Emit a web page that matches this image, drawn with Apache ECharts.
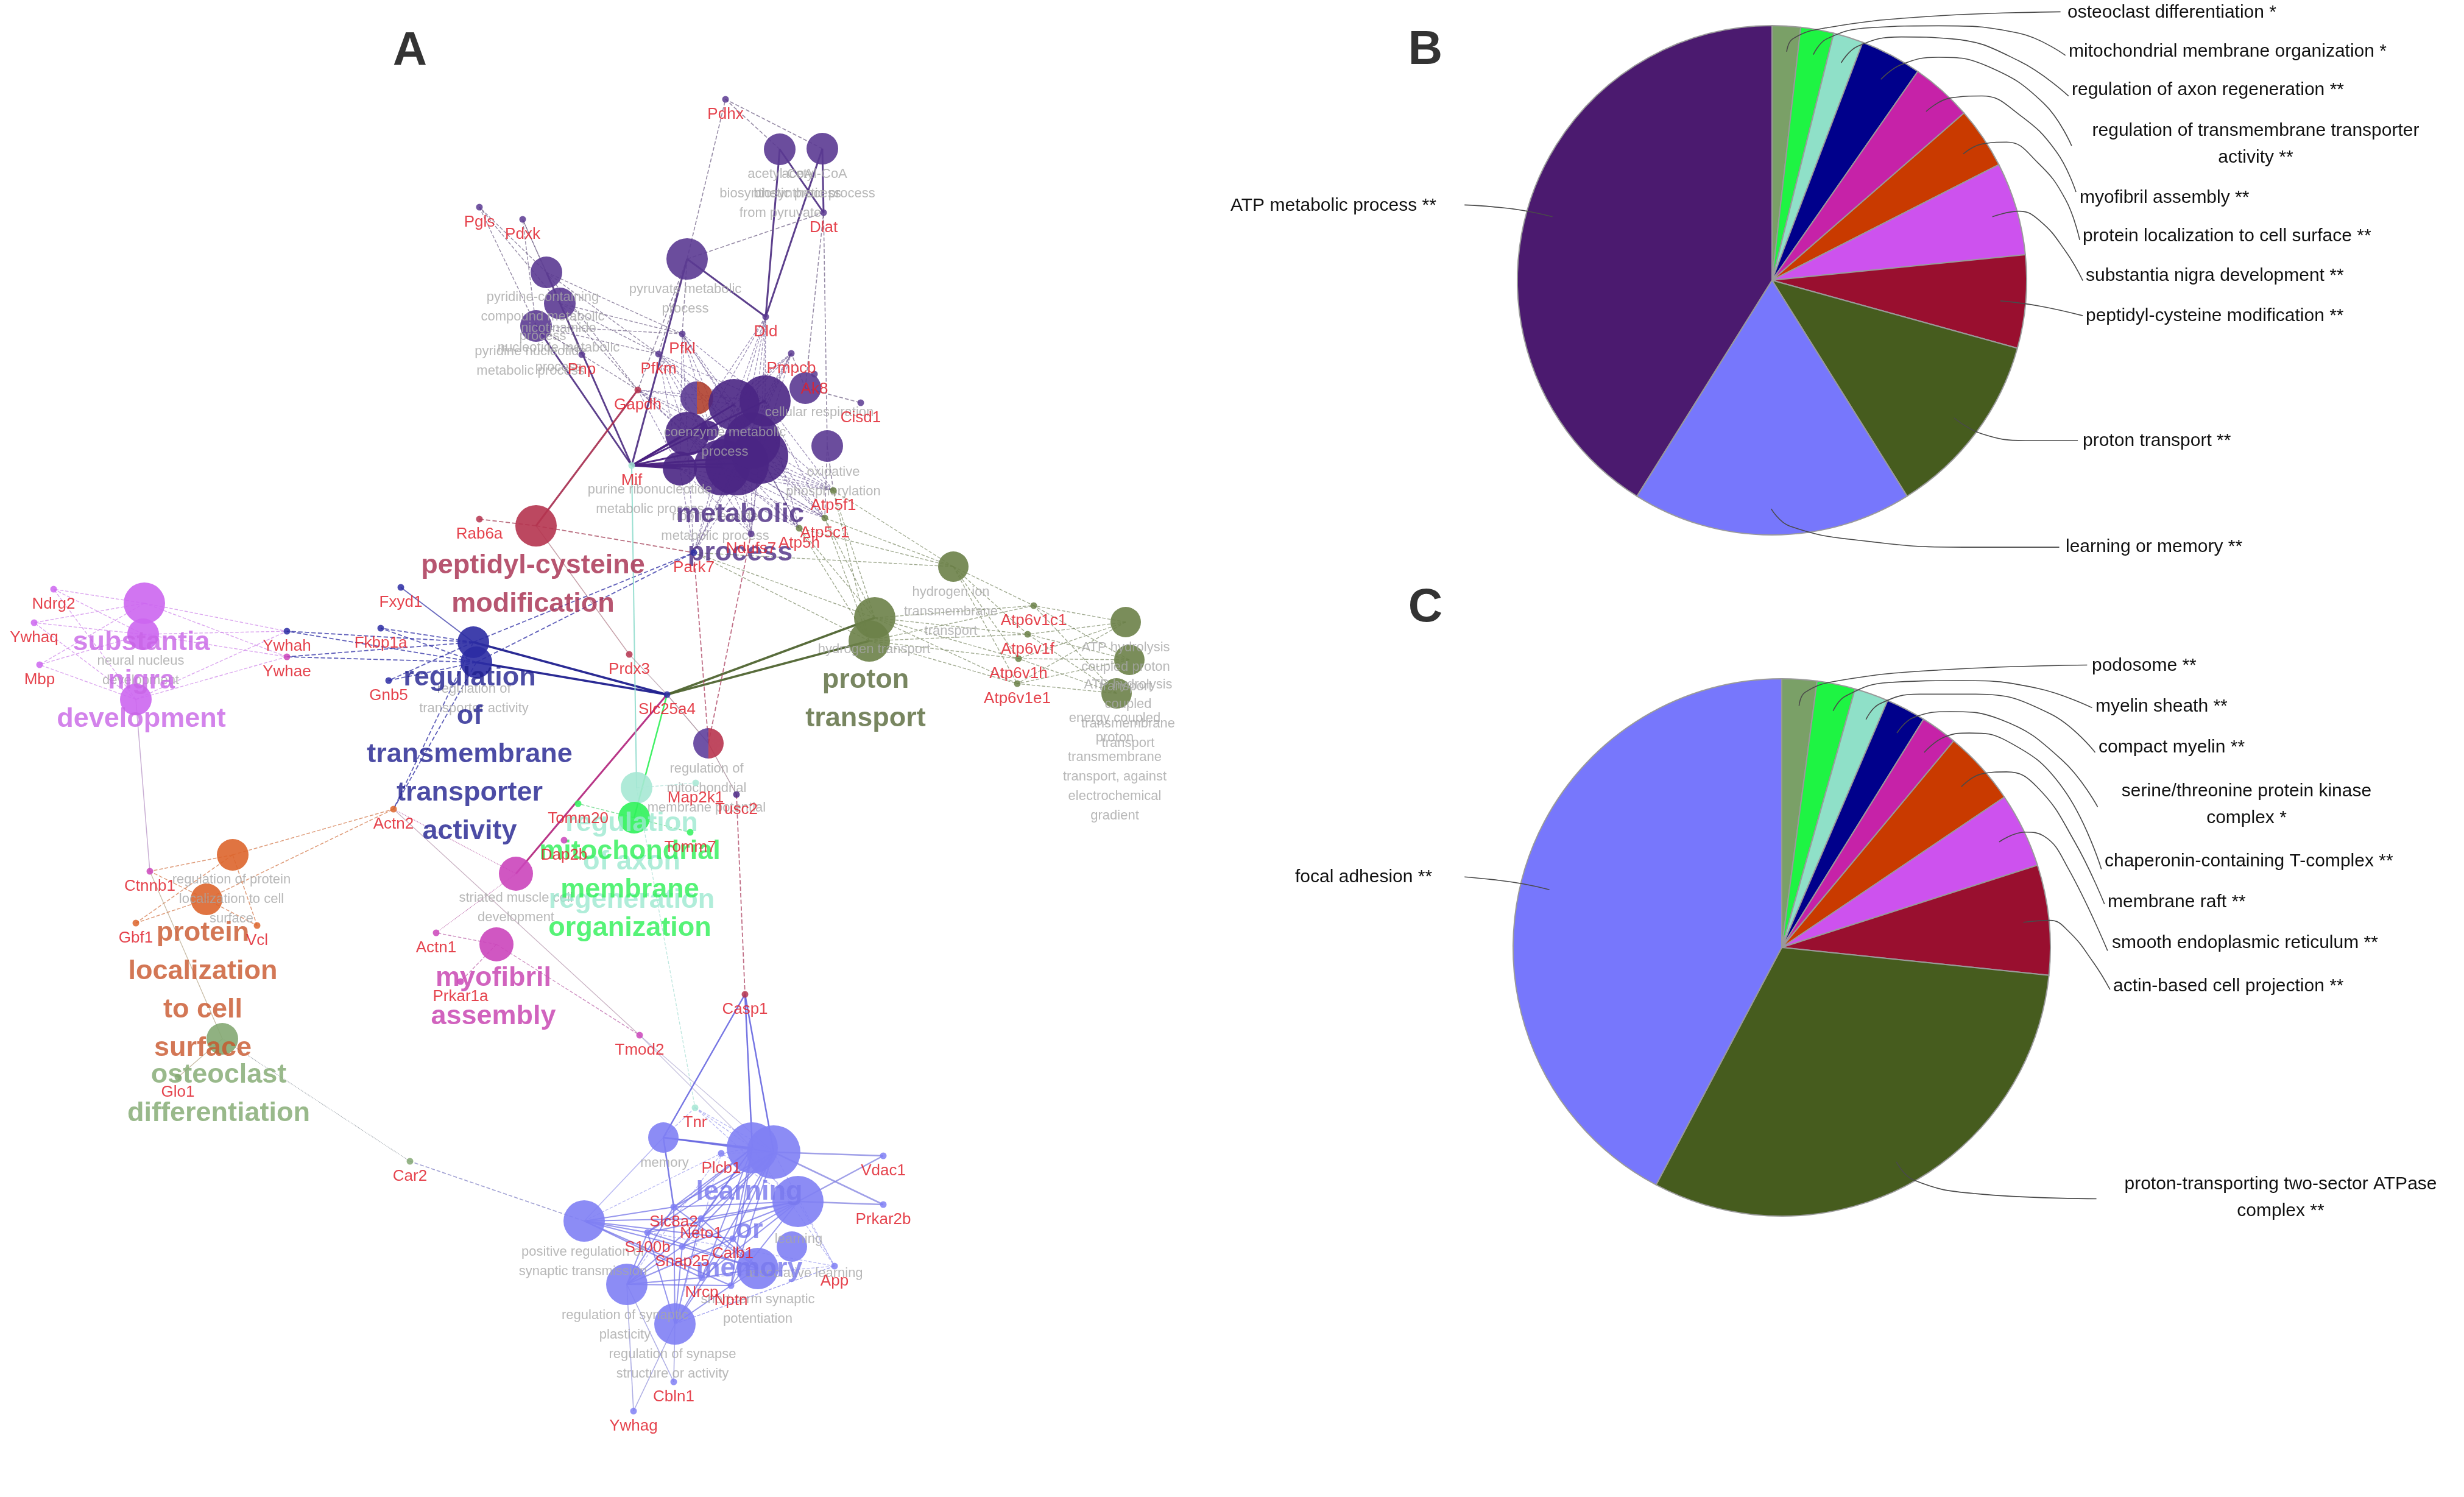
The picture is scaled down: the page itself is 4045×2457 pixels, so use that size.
<!DOCTYPE html>
<html><head><meta charset="utf-8">
<style>html,body{margin:0;padding:0;background:#fff}#c{width:4045px;height:2457px}</style>
<script src="https://cdn.jsdelivr.net/npm/echarts@6/dist/echarts.min.js"></script>
</head><body><div id="c"></div>
<script>
const FONT='"Liberation Sans",Arial,sans-serif';
const C={pu:'#5b3a92',pd:'#4a2684',cr:'#b5344f',na:'#2b2ba3',gr:'#6b8148',pk:'#cc66f0',or:'#dd652c',sg:'#84a873',mg:'#cb45bb',te:'#a6e8d4',lg:'#2ff25a',bl:'#8080f4'};

/* ---------- panel A: term nodes [id,x,y,size,colour] ---------- */
const termNodes=[
['a1',1280,245,52,'pu'],['a2',1350,244,52,'pu'],['py',1128,425,68,'pu'],
['n1',897,447,52,'pu'],['n2',919,498,52,'pu'],['n3',880,535,52,'pu'],
['r1',1322,637,52,'pu'],['r2',1358,732,52,'pu'],
['m0',1144,653,54,'half2'],['m3',1128,712,72,'pd'],['m4',1164,707,32,'pd'],['m5',1116,769,56,'pd'],
['m6',1185,767,92,'pd'],['m7',1210,761,104,'pd'],['m8',1248,748,92,'pd'],['m9',1235,723,92,'pd'],
['m1',1205,664,84,'pd'],['m2',1256,658,84,'pd'],
['pc',880,863,68,'cr'],
['b1',777,1054,52,'na'],['b2',782,1087,52,'na'],
['g1',1436,1014,68,'gr'],['g2',1427,1052,68,'gr'],['g3',1565,930,50,'gr'],['g4',1848,1021,50,'gr'],['g5',1854,1083,50,'gr'],['g6',1833,1138,50,'gr'],
['s1',237,990,68,'pk'],['s2',235,1041,52,'pk'],['s3',223,1148,52,'pk'],
['o1',382,1403,52,'or'],['o2',339,1476,52,'or'],['os',365,1705,52,'sg'],
['mg1',847,1434,56,'mg'],['mg2',815,1550,56,'mg'],
['tl',1045,1293,52,'te'],['lg',1041,1342,52,'lg'],['hn',1163,1220,50,'half'],
['l1',1089,1867,50,'bl'],['l2',1235,1884,84,'bl'],['l3',1270,1891,88,'bl'],['l4',1310,1972,84,'bl'],
['l5',959,2004,68,'bl'],['l6',1029,2108,68,'bl'],['l7',1108,2173,68,'bl'],['l8',1300,2046,50,'bl'],['l9',1244,2082,68,'bl']
];
/* gene nodes [name,x,y,colour] */
const geneNodes=[
['Pdhx',1191,163,'pu'],['Dlat',1352,349,'pu'],['Pgls',787,340,'pu'],['Pdxk',858,360,'pu'],['Pfkl',1120,548,'pu'],['Pfkm',1081,581,'pu'],
['Pnp',955,582,'pu'],['Gapdh',1047,640,'cr'],['Dld',1257,520,'pu'],['Pmpcb',1299,580,'pu'],['Ak8',1337,614,'pu'],['Cisd1',1413,661,'pu'],
['Mif',1037,764,'te'],['Atp5f1',1368,805,'gr'],['Atp5c1',1354,850,'gr'],['Atp5h',1312,867,'gr'],['Ndufs7',1233,876,'pu'],['Park7',1139,907,'na'],['Rab6a',787,852,'cr'],
['Ndrg2',88,967,'pk'],['Ywhaq',56,1022,'pk'],['Mbp',65,1091,'pk'],['Ywhah',471,1036,'na'],['Ywhae',471,1078,'mg'],
['Fxyd1',658,964,'na'],['Fkbp1a',625,1031,'na'],['Gnb5',638,1117,'na'],['Actn2',646,1328,'or'],
['Ctnnb1',246,1430,'mg'],['Gbf1',223,1515,'or'],['Vcl',422,1519,'or'],['Glo1',292,1768,'sg'],
['Actn1',716,1531,'mg'],['Prkar1a',756,1611,'mg'],['Tomm20',949,1319,'lg'],['Dap2b',926,1379,'mg'],['Prdx3',1033,1074,'cr'],
['Slc25a4',1095,1140,'na'],['Map2k1',1142,1285,'te'],['Tusc2',1209,1304,'pd'],['Tomm7',1133,1366,'lg'],['Casp1',1223,1632,'cr'],
['Atp6v1c1',1697,994,'gr'],['Atp6v1f',1687,1041,'gr'],['Atp6v1h',1672,1081,'gr'],['Atp6v1e1',1670,1122,'gr'],
['Tmod2',1050,1699,'mg'],['Tnr',1141,1818,'te'],['Vdac1',1450,1897,'bl'],['Prkar2b',1450,1977,'bl'],['Car2',673,1906,'sg'],
['Plcb1',1184,1893,'bl'],['Slc8a2',1106,1981,'bl'],['Neto1',1151,2000,'bl'],['S100b',1063,2023,'bl'],['Snap25',1120,2046,'bl'],['Calb1',1203,2033,'bl'],
['App',1370,2078,'bl'],['Nrcp',1152,2097,'bl'],['Nptn',1200,2110,'bl'],['Cbln1',1106,2268,'bl'],['Ywhag',1040,2316,'bl']
];
/* grey term names [text,x,y] */
const termNames=[
['acetyl-CoA\nbiosynthetic process\nfrom pyruvate',1281,318],['acetyl-CoA\nbiosynthetic process',1337,302],['pyruvate metabolic\nprocess',1125,491],
['pyridine-containing\ncompound metabolic\nprocess',891,520],['nicotinamide\nnucleotide metabolic\nprocess',917,571],['pyridine nucleotide\nmetabolic process',871,593],
['cellular respiration',1345,677],['coenzyme metabolic\nprocess',1190,726],['oxidative\nphosphorylation',1368,791],['purine ribonucleotide\nmetabolic process',1067,820],
['ribonucleoside\nmetabolic process',1174,864],
['neural nucleus\ndevelopment',231,1101],['regulation of\ntransporter activity',778,1147],
['hydrogen ion\ntransmembrane\ntransport',1561,1004],['hydrogen transport',1435,1066],
['ATP hydrolysis\ncoupled proton\ntransport',1848,1095],['ATP hydrolysis\ncoupled\ntransmembrane\ntransport',1852,1172],
['energy coupled\nproton\ntransmembrane\ntransport, against\nelectrochemical\ngradient',1830,1259],
['regulation of\nmitochondrial\nmembrane potential',1160,1294],
['regulation of protein\nlocalization to cell\nsurface',380,1476],['striated muscle cell\ndevelopment',847,1490],
['memory',1091,1909],['learning',1311,2034],['associative learning',1320,2090],['short-term synaptic\npotentiation',1244,2149],
['positive regulation of\nsynaptic transmission',957,2071],['regulation of synaptic\nplasticity',1026,2175],['regulation of synapse\nstructure or activity',1104,2239]
];
/* bold cluster titles [text,x,y,colour] */
const clusterTitles=[
['metabolic\nprocess',1215,876,'#4a2a82'],['peptidyl-cysteine\nmodification',875,960,'#a52a4c'],
['regulation\nof\ntransmembrane\ntransporter\nactivity',771,1239,'#1f1f8e'],['substantia\nnigra\ndevelopment',232,1118,'#c864e6'],
['proton\ntransport',1421,1148,'#566838'],['protein\nlocalization\nto cell\nsurface',333,1626,'#c8552a'],
['osteoclast\ndifferentiation',359,1796,'#7fa86e'],['myofibril\nassembly',810,1637,'#c53cae'],
['regulation\nof axon\nregeneration',1037,1415,'#9ce8d0'],['mitochondrial\nmembrane\norganization',1034,1461,'#2cf055'],
['learning\nor\nmemory',1230,2020,'#7878ee']
];
/* edges: [term ids, gene/term ids, colour, width, dash, opacity] */
const M=['m1','m2','m3','m5','m6','m7','m8','m9'];
const edgeGroups=[
[['a1','a2'],['Dlat','Dld'],'#4a2a80',3,'solid',.9],[['a1','a2'],['Pdhx'],'#6a5a80',1.6,'dashed',.7],
[['py'],['Dld','Mif'],'#4a2a80',3,'solid',.9],[['py'],['Pdhx','Dlat','Pfkl','Pfkm','Gapdh'],'#6a5a80',1.6,'dashed',.7],
[['n1','n3'],['Mif'],'#4a2a80',3,'solid',.9],[['n1','n2','n3'],['Pgls','Pdxk','Pnp','Pfkl','Pfkm','Gapdh'],'#6a5a80',1.4,'dashed',.7],
[['r1'],['Cisd1','Pmpcb','Dlat'],'#6a5a80',1.6,'dashed',.7],[['r2'],['Atp5f1','Atp5c1','Dlat'],'#6a5a80',1.6,'dashed',.7],
[M,['Mif'],'#4a2080',3,'solid',.95],
[M,['Pfkl','Pfkm','Gapdh','Dld','Pmpcb','Atp5f1','Atp5c1','Atp5h','Ndufs7','Park7'],'#5f4a88',1.3,'dashed',.6],
[['pc'],['Gapdh'],'#a52a4c',3,'solid',.9],[['pc'],['Rab6a','Park7'],'#a84a60',1.8,'dashed',.8],[['pc'],['Prdx3'],'#a06070',1.4,'solid',.6],
[['g1','g2'],['Slc25a4'],'#4f6430',3.5,'solid',.95],
[['g1','g2','g3'],['Atp5f1','Atp5c1','Atp5h','Park7'],'#6d7d55',1.4,'dashed',.65],
[['g1','g2','g3','g4','g5','g6'],['Atp6v1c1','Atp6v1f','Atp6v1h','Atp6v1e1'],'#6d7d55',1.4,'dashed',.65],
[['b1','b2'],['Slc25a4'],'#1f1f8e',3.5,'solid',.95],[['b1'],['Fxyd1'],'#2b2ba3',1.8,'solid',.7],
[['b1','b2'],['Fkbp1a','Gnb5','Ywhah','Ywhae','Actn2','Park7'],'#2b2ba3',1.8,'dashed',.75],
[['s1','s2','s3'],['Ndrg2','Ywhaq','Mbp','Ywhah','Ywhae'],'#cc80e8',1.4,'dashed',.7],[['s3'],['Ctnnb1'],'#b08ac0',1.5,'solid',.7],
[['o1','o2'],['Ctnnb1','Gbf1','Vcl','Actn2'],'#d07040',1.5,'dashed',.7],
[['os'],['Ctnnb1','Glo1'],'#b0a080',1.3,'solid',.7],[['os'],['Car2'],'#9aa0a8',1.4,'dotted',.8],[['l5'],['Car2'],'#8a8ac8',1.6,'dashed',.8],
[['mg1'],['Slc25a4'],'#b0207a',3,'solid',.9],[['mg1'],['Actn2','Actn1'],'#c070b0',1.4,'dotted',.8],
[['mg2'],['Actn1','Prkar1a','Tmod2'],'#c070b0',1.4,'dashed',.8],[['Actn2'],['Tmod2'],'#b090a8',1.2,'solid',.7],
[['lg'],['Slc25a4'],'#2cf055',2.5,'solid',.9],[['lg'],['Tomm20','Tomm7'],'#50d070',1.4,'dashed',.7],
[['tl'],['Mif'],'#8fdccc',2,'solid',.9],[['tl'],['Tnr','Map2k1'],'#a0dcd0',1.3,'dashed',.7],
[['hn'],['Slc25a4','Tusc2'],'#907080',1.4,'solid',.7],[['hn'],['Park7','Ndufs7'],'#b04a68',1.8,'dashed',.8],
[['Tusc2'],['Casp1'],'#b04a68',1.8,'dashed',.8],[['Prdx3'],['Slc25a4'],'#a08090',1.2,'solid',.6],
[['Tmod2'],['l2','l3'],'#a09ac8',1.2,'solid',.6],[['Tnr'],['l2','l3','l1','l4'],'#9a9aee',1.3,'dashed',.7],
[['l1','l2','l3'],['Casp1'],'#6666e0',2.5,'solid',.9],[['l1'],['l2','l3','Slc8a2'],'#6666e0',2.5,'solid',.85],[['l1'],['l5'],'#9a9aee',1.6,'solid',.7],
[['l2','l3','l4','l5','l6','l7','l9'],['Slc8a2','Neto1','S100b','Snap25','Calb1','Nrcp','Nptn'],'#6a6ae6',2,'solid',.7],
[['l5','l6','l7','l2','l3','l4'],['Plcb1','App'],'#9a9aee',1.3,'dashed',.7],
[['l3','l4'],['Vdac1','Prkar2b'],'#8080e0',2.5,'solid',.75],[['l7','l6'],['Cbln1','Ywhag'],'#8c8cd8',1.6,'solid',.7],[['l7'],['App'],'#9a9aee',1.3,'dashed',.7]
];

/* ---------- panel B ---------- */
const bNames=['osteoclast differentiation *','mitochondrial membrane organization *','regulation of axon regeneration **','regulation of transmembrane transporter\nactivity **','myofibril assembly **','protein localization to cell surface **','substantia nigra development **','peptidyl-cysteine modification **','proton transport **','learning or memory **','ATP metabolic process **'];
const bValues=[1.8,2.1,1.9,3.9,3.9,3.9,5.9,5.9,11.8,17.8,41.1];
const bColors=['#7aa067','#1ef443','#8fe0c8','#00008b','#c622a8','#c93a00','#cd52ee','#990f2f','#465c1e','#7777fc','#4b1a6f'];
const bLabelX=[3394,3396,3401,3703,3414,3419,3424,3424,3419,3391,2020];
const bLabelY=[21,85,148,237,325,388,453,519,724,898,338];
const bLeaders=[
[[475,140],[485,105],[540,75],[700,45],[917,32]],
[[518,148],[540,105],[610,75],[720,70],[850,90],[925,150]],
[[563,170],[590,125],[660,100],[740,105],[850,165],[930,260]],
[[627,215],[660,175],[720,155],[800,180],[890,280],[935,395]],
[[700,302],[740,265],[790,260],[850,310],[910,410],[942,520]],
[[760,417],[790,390],[830,385],[880,440],[925,540],[948,650]],
[[807,587],[850,572],[885,600],[925,680],[953,760]],
[[820,815],[880,828],[953,855]],
[[745,1132],[790,1175],[860,1193],[945,1193]],
[[450,1378],[480,1425],[600,1465],[760,1482],[915,1482]],
[[-45,555],[0,560],[50,570],[97,587]]
];
/* ---------- panel C ---------- */
const cNames=['podosome **','myelin sheath **','compact myelin **','serine/threonine protein kinase\ncomplex *','chaperonin-containing T-complex **','membrane raft **','smooth endoplasmic reticulum **','actin-based cell projection **','proton-transporting two-sector ATPase\ncomplex **','focal adhesion **'];
const cValues=[2.1,2.3,2.05,2.4,2.2,4.5,4.5,6.6,31.1,42.25];
const cColors=['#7aa067','#1ef443','#8fe0c8','#00008b','#c622a8','#c93a00','#cd52ee','#990f2f','#465c1e','#7777fc'];
const cLabelX=[3434,3440,3445,3688,3455,3460,3467,3469,3744,2126];
const cLabelY=[1093,1160,1227,1321,1414,1481,1548,1619,1966,1440];
const cLeaders=[
[[495,170],[505,135],[560,105],[720,78],[960,65]],
[[550,183],[570,145],[640,110],[760,105],[880,125],[968,175]],
[[603,205],[625,165],[690,140],[780,140],[900,190],[973,290]],
[[653,240],[680,200],[740,185],[820,205],[920,310],[977,430]],
[[697,290],[730,250],[770,240],[830,260],[920,380],[983,590]],
[[757,378],[790,345],[830,340],[880,380],[940,520],[988,680]],
[[818,520],[860,495],[890,505],[930,590],[993,800]],
[[857,727],[900,722],[930,750],[970,830],[997,900]],
[[652,1343],[680,1390],[780,1425],[975,1438]],
[[-45,610],[0,617],[50,628],[92,643]]
];
const panelLetters=[['A',673,85],['B',2340,83],['C',2340,998]];

/* ---------- build ---------- */
const chart=echarts.init(document.getElementById('c'),null,{renderer:'canvas'});
const pos={};termNodes.forEach(n=>pos[n[0]]=[n[1],n[2]]);geneNodes.forEach(n=>pos[n[0]]=[n[1],n[2]]);
const hard=(a,b)=>new echarts.graphic.LinearGradient(0,0,1,0,[{offset:0,color:a},{offset:.5,color:a},{offset:.5,color:b},{offset:1,color:b}]);
const fill=k=>k==='half'?hard('#5f3f9c','#b8344e'):k==='half2'?hard('#5b3a92','#b0402e'):C[k];
const series=[];
edgeGroups.forEach((g,i)=>{
  const data=[];g[0].forEach(a=>g[1].forEach(b=>{data.push({coords:[pos[a],pos[b]]})}));
  series.push({type:'lines',coordinateSystem:'cartesian2d',z:1,silent:true,symbol:'none',data,
    lineStyle:{color:g[2],width:g[3],type:g[4],opacity:g[5],curveness:0}});
});
series.push({type:'scatter',z:3,silent:true,data:termNodes.map(n=>({value:[n[1],n[2]],symbolSize:n[3],itemStyle:{color:fill(n[4]),opacity:.9}}))});
series.push({type:'scatter',z:6,silent:true,symbolSize:11,data:geneNodes.map(n=>({value:[n[1],n[2]],name:n[0],itemStyle:{color:C[n[3]],opacity:.85}})),
  label:{show:true,formatter:'{b}',position:'bottom',distance:6,color:'#e0222e',fontFamily:FONT,fontSize:26}});
series.push({type:'scatter',z:4,silent:true,symbolSize:0,data:termNames.map(n=>({value:[n[1],n[2]],name:n[0]})),
  label:{show:true,formatter:'{b}',position:'inside',align:'center',verticalAlign:'middle',color:'#a6a6a6',fontFamily:FONT,fontSize:22,lineHeight:32}});
series.push({type:'scatter',z:5,silent:true,symbolSize:0,data:clusterTitles.map(n=>({value:[n[1],n[2]],name:n[0],label:{color:n[3]}})),
  label:{show:true,formatter:'{b}',position:'inside',align:'center',verticalAlign:'middle',fontFamily:FONT,fontWeight:'bold',fontSize:45,lineHeight:63}});
series.push({type:'scatter',z:7,silent:true,symbolSize:0,data:panelLetters.map(n=>({value:[n[1],n[2]],name:n[0]})),
  label:{show:true,formatter:'{b}',position:'inside',align:'center',verticalAlign:'middle',color:'#000',fontFamily:FONT,fontWeight:'bold',fontSize:78}});

function pie(names,values,colors,lx,ly,center,r,z){
  return {type:'pie',z,silent:true,center,radius:r,startAngle:90,clockwise:true,avoidLabelOverlap:false,animation:false,
    data:names.map((n,i)=>({name:n,value:values[i],itemStyle:{color:colors[i]}})),
    itemStyle:{borderColor:'#9a9a9a',borderWidth:2},
    label:{show:true,position:'outside',formatter:'{b}',color:'#111',fontFamily:FONT,fontSize:30,lineHeight:44,textAlign:'center'},
    labelLine:{show:false},
    labelLayout:p=>{const i=p.dataIndex,multi=names[i].includes('\n'),last=i===names.length-1;
      return {x:lx[i],y:ly[i],align:multi?'center':'left',verticalAlign:'middle',hideOverlap:false};}
  };
}
series.push(pie(bNames,bValues,bColors,bLabelX,bLabelY,[2909,460],418,2));
series.push(pie(cNames,cValues,cColors,cLabelX,cLabelY,[2925,1555],441,2));
const leader=(pts,mx,my,y0)=>({type:'line',z:8,silent:true,showSymbol:false,smooth:.45,data:pts.map(p=>[2450+p[0]*mx,y0+p[1]*my]),lineStyle:{color:'#4a4a4a',width:1.6}});
bLeaders.forEach(l=>series.push(leader(l,1.017,.606,0)));
cLeaders.forEach(l=>series.push(leader(l,1.017,.638,1050)));

chart.setOption({animation:false,backgroundColor:'#fff',
  grid:{left:0,right:0,top:0,bottom:0},
  xAxis:{type:'value',min:0,max:4045,show:false},
  yAxis:{type:'value',min:0,max:2457,inverse:true,show:false},
  series});
</script></body></html>
